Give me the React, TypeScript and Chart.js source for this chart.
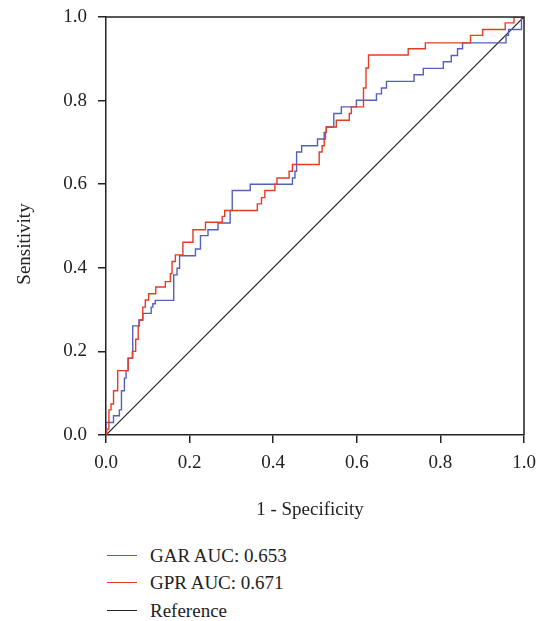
import React, { useEffect, useRef } from "react";
import { Chart, registerables } from "chart.js";

Chart.register(...registerables);

// ROC vertices (1 - specificity, sensitivity), stepped: horizontal then vertical
const GAR_FPR = [0, 0, 0.018, 0.032, 0.037, 0.044, 0.048, 0.053, 0.064, 0.079, 0.088, 0.108, 0.112, 0.118, 0.162, 0.17, 0.176, 0.214, 0.226, 0.244, 0.268, 0.297, 0.302, 0.345, 0.446, 0.452, 0.456, 0.468, 0.506, 0.522, 0.527, 0.545, 0.563, 0.599, 0.647, 0.659, 0.671, 0.737, 0.759, 0.807, 0.826, 0.841, 0.853, 0.957, 0.963, 0.994, 1];
const GAR_TPR = [0, 0.03, 0.046, 0.06, 0.106, 0.136, 0.154, 0.184, 0.261, 0.275, 0.291, 0.306, 0.314, 0.322, 0.383, 0.399, 0.429, 0.445, 0.477, 0.491, 0.507, 0.537, 0.585, 0.6, 0.615, 0.631, 0.677, 0.692, 0.708, 0.724, 0.737, 0.769, 0.785, 0.801, 0.816, 0.83, 0.846, 0.862, 0.877, 0.893, 0.908, 0.924, 0.938, 0.956, 0.97, 1.0, 1.0];

const GPR_FPR = [0, 0.002, 0.007, 0.012, 0.018, 0.028, 0.053, 0.063, 0.071, 0.077, 0.08, 0.088, 0.094, 0.102, 0.119, 0.142, 0.154, 0.158, 0.166, 0.184, 0.208, 0.238, 0.278, 0.284, 0.362, 0.372, 0.38, 0.404, 0.409, 0.438, 0.446, 0.51, 0.517, 0.522, 0.525, 0.527, 0.551, 0.582, 0.587, 0.616, 0.622, 0.628, 0.723, 0.764, 0.872, 0.901, 0.955, 0.976, 1];
const GPR_TPR = [0, 0.014, 0.06, 0.074, 0.106, 0.154, 0.184, 0.2, 0.229, 0.261, 0.275, 0.306, 0.323, 0.338, 0.354, 0.367, 0.386, 0.415, 0.431, 0.461, 0.491, 0.509, 0.523, 0.537, 0.553, 0.568, 0.585, 0.6, 0.615, 0.631, 0.647, 0.677, 0.692, 0.708, 0.724, 0.737, 0.753, 0.769, 0.785, 0.83, 0.878, 0.909, 0.924, 0.938, 0.956, 0.97, 0.986, 1.0, 1.0];

const REF_FPR = [0, 1];
const REF_TPR = [0, 1];

const TICKS = [0, 0.2, 0.4, 0.6, 0.8, 1.0];
const LABELS = ["GAR AUC: 0.653", "GPR AUC: 0.671", "Reference"];
const COLORS = ["#5360bf", "#e63c26", "#222222"];
const X_TITLE = "1 - Specificity";
const Y_TITLE = "Sensitivity";

const FONT = '"Liberation Serif", "Times New Roman", serif';
const INK = "#222";

const toPoints = (xs: number[], ys: number[]) => xs.map((x, i) => ({ x, y: ys[i] }));

const framePlugin = {
  id: "frameAndTitles",
  afterDraw(chart: any) {
    const { ctx, chartArea } = chart;
    const { left, right, top, bottom } = chartArea;
    ctx.save();
    ctx.strokeStyle = INK;
    ctx.lineWidth = 1.5;
    ctx.beginPath();
    ctx.moveTo(left, top);
    ctx.lineTo(right, top);
    ctx.lineTo(right, bottom);
    ctx.stroke();
    ctx.fillStyle = INK;
    ctx.font = `19px ${FONT}`;
    ctx.textAlign = "center";
    ctx.textBaseline = "middle";
    ctx.fillText(X_TITLE, (left + right) / 2 - 5, bottom + 75);
    ctx.translate(25, (top + bottom) / 2 + 18);
    ctx.rotate(-Math.PI / 2);
    ctx.fillText(Y_TITLE, 0, 0);
    ctx.restore();
  },
};

function axis(isX: boolean) {
  return {
    type: "linear",
    min: 0,
    max: 1,
    afterBuildTicks: (s: any) => {
      s.ticks = TICKS.map((v) => ({ value: v }));
    },
    afterFit: (s: any) => {
      if (isX) s.height = 95;
      else s.width = 106;
      s.paddingTop = 0;
      s.paddingBottom = 0;
      s.paddingLeft = 0;
      s.paddingRight = 0;
    },
    ticks: {
      callback: (v: any) => Number(v).toFixed(1),
      font: { family: FONT, size: 19 },
      color: INK,
      padding: isX ? 9 : 11,
      maxRotation: 0,
      autoSkip: false,
    },
    grid: {
      display: true,
      drawOnChartArea: false,
      drawTicks: true,
      tickLength: 8,
      color: INK,
      lineWidth: 1.5,
    },
    border: { display: true, color: INK, width: 1.5 },
  };
}

export default function App() {
  const ref = useRef<HTMLCanvasElement | null>(null);

  useEffect(() => {
    if (!ref.current) return;
    const chart = new Chart(ref.current, {
      type: "line",
      data: {
        datasets: [
          {
            label: LABELS[2],
            data: toPoints(REF_FPR, REF_TPR),
            borderColor: COLORS[2],
            borderWidth: 1.2,
            pointRadius: 0,
            fill: false,
            order: 3,
          },
          {
            label: LABELS[0],
            data: toPoints(GAR_FPR, GAR_TPR),
            borderColor: COLORS[0],
            borderWidth: 1.4,
            pointRadius: 0,
            stepped: "before",
            fill: false,
            order: 2,
          },
          {
            label: LABELS[1],
            data: toPoints(GPR_FPR, GPR_TPR),
            borderColor: COLORS[1],
            borderWidth: 1.4,
            pointRadius: 0,
            stepped: "before",
            fill: false,
            order: 1,
          },
        ],
      },
      options: {
        responsive: false,
        maintainAspectRatio: false,
        animation: false,
        parsing: true,
        layout: { autoPadding: false, padding: { left: 0, right: 19, top: 17, bottom: 0 } },
        scales: { x: axis(true) as any, y: axis(false) as any },
        plugins: { legend: { display: false }, tooltip: { enabled: false } },
      },
      plugins: [framePlugin],
    } as any);
    return () => chart.destroy();
  }, []);

  const rowCenters = [556, 583, 611];

  return (
    <div style={{ position: "absolute", left: 0, top: 0, width: 543, height: 621, background: "#fff" }}>
      <canvas ref={ref} width={543} height={530} style={{ display: "block", width: 543, height: 530 }} />
      {LABELS.map((label, i) => (
        <div key={label}>
          <div
            style={{
              position: "absolute",
              left: 107,
              top: rowCenters[i] - 0.7,
              width: 30,
              height: 0,
              borderTop: `1.4px solid ${COLORS[i]}`,
            }}
          />
          <div
            style={{
              position: "absolute",
              left: 150,
              top: rowCenters[i] - 14,
              height: 28,
              lineHeight: "28px",
              fontFamily: FONT,
              fontSize: 19,
              color: INK,
              whiteSpace: "nowrap",
            }}
          >
            {label}
          </div>
        </div>
      ))}
    </div>
  );
}
